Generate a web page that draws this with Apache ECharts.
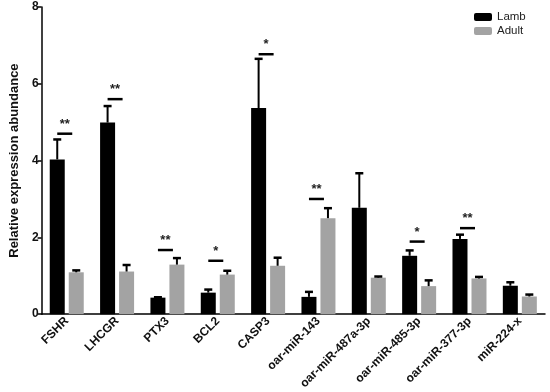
<!DOCTYPE html>
<html><head><meta charset="utf-8">
<script src="https://cdn.jsdelivr.net/npm/echarts@6/dist/echarts.min.js"></script>
<style>html,body{margin:0;padding:0;background:#fff}#c{width:550px;height:392px}</style>
</head><body><div id="c"></div>
<script>
var categories = ['FSHR','LHCGR','PTX3','BCL2','CASP3','oar-miR-143','oar-miR-487a-3p','oar-miR-485-3p','oar-miR-377-3p','miR-224-x'];
var lamb = [4.03, 4.99, 0.43, 0.56, 5.37, 0.45, 2.77, 1.52, 1.96, 0.74];
var lambErr = [0.52, 0.43, 0.01, 0.08, 1.28, 0.13, 0.90, 0.14, 0.11, 0.09];
var adult = [1.09, 1.11, 1.29, 1.03, 1.26, 2.50, 0.95, 0.73, 0.93, 0.46];
var adultErr = [0.05, 0.17, 0.17, 0.10, 0.21, 0.26, 0.03, 0.15, 0.04, 0.05];
var sigCats = ['FSHR','LHCGR','PTX3','BCL2','CASP3','oar-miR-143','oar-miR-485-3p','oar-miR-377-3p'];
var sigLevels = [4.70, 5.60, 1.67, 1.39, 6.77, 3.00, 1.89, 2.24];
var sigMarks = ['**','**','**','*','*','**','*','**'];
var yTicks = [0, 2, 4, 6, 8];

var FONT = 'Liberation Sans, Arial, sans-serif';
var BW = 15, GAP = 4;

function errData(vals, errs){
  return vals.map(function(v,i){ return [i, v, v+errs[i]]; });
}
function errRender(offset){
  return function(params, api){
    var x = api.value(0);
    var p0 = api.coord([x, api.value(1)]);
    var p1 = api.coord([x, api.value(2)]);
    var cx = p0[0] + offset;
    var cap = 4;
    return {type:'group', children:[
      {type:'line', shape:{x1:cx,y1:p0[1],x2:cx,y2:p1[1]}, style:{stroke:'#000',lineWidth:2}},
      {type:'line', shape:{x1:cx-cap,y1:p1[1],x2:cx+cap,y2:p1[1]}, style:{stroke:'#000',lineWidth:2.5}}
    ]};
  };
}
var sigData = sigCats.map(function(c,i){ return [categories.indexOf(c), sigLevels[i], sigMarks[i]]; });

var chart = echarts.init(document.getElementById('c'));
chart.setOption({
  animation:false,
  backgroundColor:'#fff',
  grid:{left:31, right:5, top:7, bottom:76},
  legend:{
    left:469, top:6, orient:'vertical', itemWidth:18, itemHeight:8, itemGap:2,
    textStyle:{fontFamily:FONT, fontSize:11.5, color:'#222', padding:[0,0,0,0]},
    data:['Lamb','Adult']
  },
  xAxis:{
    type:'category', data:categories,
    axisLine:{lineStyle:{color:'#000', width:1.5}},
    axisTick:{alignWithLabel:true, length:4, lineStyle:{color:'#000', width:1.5}},
    axisLabel:{rotate:45, fontFamily:FONT, fontWeight:'bold', fontSize:12, color:'#111', margin:5, interval:0}
  },
  yAxis:{
    type:'value', min:0, max:8, interval:2,
    name:'Relative expression abundance', nameLocation:'middle', nameGap:16,
    nameTextStyle:{fontFamily:FONT, fontWeight:'bold', fontSize:13, color:'#111'},
    axisLine:{show:true, lineStyle:{color:'#000', width:1.5}},
    axisTick:{show:true, length:4, lineStyle:{color:'#000', width:1.5}},
    axisLabel:{fontFamily:FONT, fontWeight:'bold', fontSize:12, color:'#111', margin:3,
      formatter:function(v){ return yTicks.indexOf(v)>=0 ? String(v) : ''; }},
    splitLine:{show:false}
  },
  series:[
    {name:'Lamb', type:'bar', data:lamb, barWidth:BW, barGap:(GAP/BW*100)+'%', itemStyle:{color:'#000'}},
    {name:'Adult', type:'bar', data:adult, barWidth:BW, itemStyle:{color:'#a3a3a3'}},
    {type:'custom', data:errData(lamb,lambErr), renderItem:errRender(-(BW+GAP)/2), z:5, silent:true},
    {type:'custom', data:errData(adult,adultErr), renderItem:errRender((BW+GAP)/2), z:5, silent:true},
    {type:'custom', data:sigData, z:6, silent:true,
      renderItem:function(params, api){
        var p = api.coord([api.value(0), api.value(1)]);
        var cx = p[0]-2;
        return {type:'group', children:[
          {type:'line', shape:{x1:cx-7.5,y1:p[1],x2:cx+7.5,y2:p[1]}, style:{stroke:'#000',lineWidth:2.5}},
          {type:'text', style:{text:sigData[params.dataIndex][2], x:cx, y:p[1]-3, align:'center', verticalAlign:'bottom',
            fontFamily:FONT, fontSize:13, fontWeight:'bold', fill:'#222'}}
        ]};
      }}
  ]
});
</script>
</body></html>
